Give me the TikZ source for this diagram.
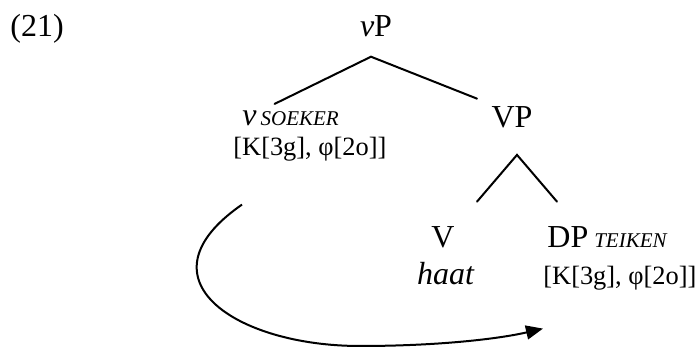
\documentclass[tikz,border=0pt]{standalone}
\usepackage{fontspec}
\setmainfont{Liberation Serif}
\usetikzlibrary{arrows.meta}

\newcommand{\agr}[1]{{\fontsize{10.5pt}{12pt}\selectfont\itshape #1}}
\newcommand{\featfont}{\fontsize{13.2pt}{15pt}\selectfont}

\begin{document}
\begin{tikzpicture}[
    x=0.5pt, y=-0.5pt,
    font=\fontsize{16pt}{19pt}\selectfont,
    every node/.style={inner sep=0pt},
    feat/.style={anchor=base west, font=\featfont},
    branch/.style={line width=1pt, line cap=round},
    movearrow/.style={-{Triangle[length=8.5pt,width=7pt]}, line width=1pt}
]
\useasboundingbox (0,0) rectangle (697,347);

% Tree labels
\node[anchor=base west] (ex) at (10,37) {(21)};
\node[anchor=base] (vP) at (376,37) {\textit{v}P};
\node[anchor=base west] (vhead) at (242,126) {\textit{v}\hspace{2pt}\agr{SOEKER}};
\node[feat] (feat1) at (233,156) {[K[3g], φ[2o]]};
\node[anchor=base] (VP) at (512,128) {VP};
\node[anchor=base] (V) at (443,248) {V};
\node[anchor=base] (verb) at (446,285) {\textit{haat}};
\node[anchor=base west] (DP) at (547,248) {DP\hspace{3pt}\agr{TEIKEN}};
\node[feat] (feat2) at (543,285) {[K[3g], φ[2o]]};

% Branches
\draw[branch] ([shift={(-16,-7)}]vhead.north) -- ([shift={(-5,19)}]vP.south)
    -- ([shift={(-35,-8)}]VP.north);
\draw[branch] ([shift={(34,-25)}]V.north) -- ([shift={(5,26)}]VP.south)
    -- ([shift={(10,-25)}]DP.north west);

% Movement
\coordinate (low) at (360,346);
\draw[movearrow] ([shift={(9,42.5)}]feat1.south west) .. controls +(-107,74) and +(-125,0) .. (low)
    .. controls +(80,0) and +(-43,10) .. ([shift={(0,37.5)}]feat2.south west);

\end{tikzpicture}
\end{document}
